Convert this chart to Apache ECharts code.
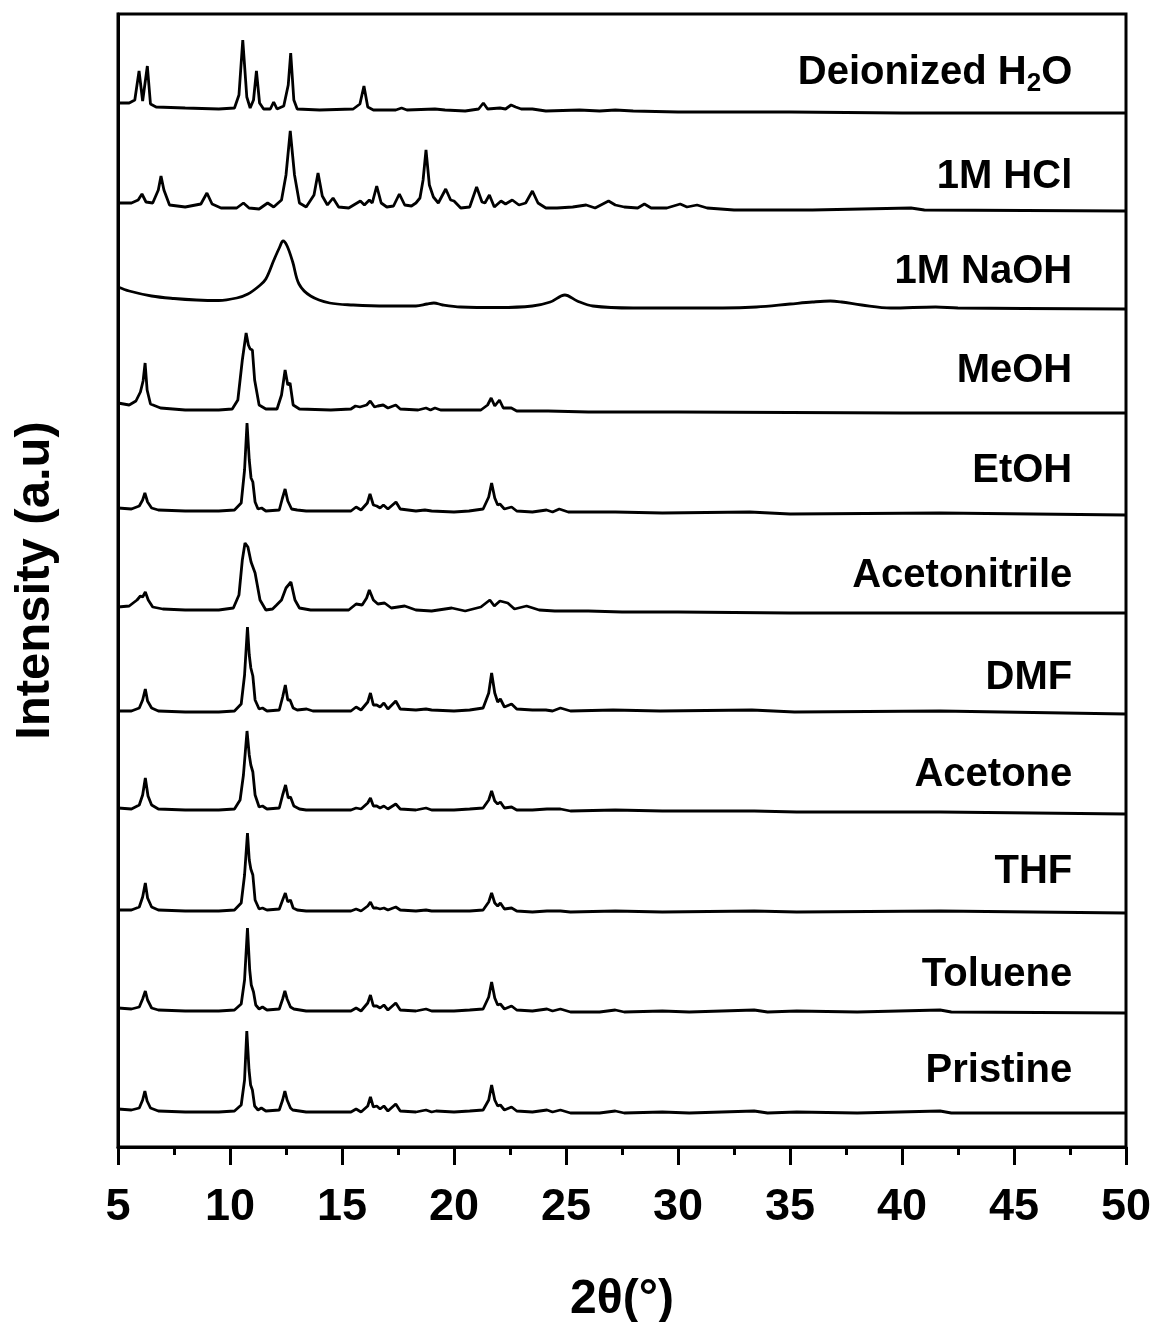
<!DOCTYPE html>
<html>
<head>
<meta charset="utf-8">
<script src="https://cdn.jsdelivr.net/npm/echarts@6/dist/echarts.min.js"></script>
<style>
html,body{margin:0;padding:0;background:#fff;}
#chart{width:1157px;height:1322px;}
</style>
</head>
<body>
<div id="chart"></div>
<script>
// Sample names (top to bottom) and vertical stacking offsets (a.u.)
const sampleNames = ['Deionized H2O','1M HCl','1M NaOH','MeOH','EtOH','Acetonitrile','DMF','Acetone','THF','Toluene','Pristine'];
const offsets = [1033, 935, 836, 733, 631, 533, 432, 332, 233, 133, 32];
const labelLift = [41, 35, 39, 43, 45, 38, 37, 40, 42, 39, 44];

// Each pattern: [2theta, intensity above its own offset]
const deionized = [[5.0,11],[5.5,11],[5.75,14],[5.94,43],[6.1,13],[6.18,14],[6.31,48],[6.45,10],[6.7,7],[8.0,6],[9.5,5],[10.2,6],[10.4,19],[10.57,74],[10.75,17],[10.9,6],[11.05,14],[11.18,43],[11.32,11],[11.5,5],[11.8,5],[11.95,12],[12.1,5],[12.4,8],[12.6,29],[12.71,61],[12.85,14],[13.0,5],[14.0,4],[15.5,5],[15.8,10],[15.98,28],[16.15,7],[16.4,4],[17.4,4],[17.66,6],[17.9,4],[19.15,5],[19.6,4],[20.5,3],[21.1,5],[21.31,11],[21.5,5],[22.05,6],[22.3,5],[22.55,9],[22.75,7],[23.0,5],[23.5,5],[24.1,3],[25.6,4],[26.5,3],[27.2,4],[28,3],[30,2],[35,2],[40,1],[50,1]];
const hcl = [[5.0,9],[5.6,9],[5.9,12],[6.07,18],[6.25,10],[6.55,9],[6.8,22],[6.92,36],[7.05,22],[7.3,7],[8.0,5],[8.7,8],[8.97,19],[9.2,8],[9.6,4],[10.3,4],[10.6,9],[10.85,4],[11.3,3],[11.68,9],[11.95,5],[12.3,12],[12.5,37],[12.69,81],[12.88,37],[13.1,9],[13.4,5],[13.75,17],[13.93,39],[14.12,16],[14.35,7],[14.6,14],[14.85,5],[15.3,4],[15.82,11],[16.0,7],[16.22,12],[16.35,9],[16.55,26],[16.75,9],[17.0,5],[17.3,6],[17.56,18],[17.8,7],[18.1,6],[18.3,9],[18.48,14],[18.62,32],[18.75,62],[18.9,27],[19.08,15],[19.3,9],[19.63,23],[19.85,12],[20.0,11],[20.3,4],[20.7,5],[21.01,25],[21.25,10],[21.38,9],[21.58,17],[21.8,5],[22.1,11],[22.3,8],[22.6,12],[22.9,7],[23.2,9],[23.5,21],[23.75,9],[24.1,4],[24.6,4],[25.3,5],[25.9,7],[26.3,4],[26.9,11],[27.2,7],[27.6,5],[28.2,4],[28.5,8],[28.8,4],[29.5,4],[30.1,8],[30.4,5],[30.85,7],[31.3,4],[32.5,2],[36,2],[40.4,4],[41,2],[50,1]];
const naoh = [[5.0,24],[5.5,20],[6.5,15],[7.5,12.5],[8.5,11],[9.5,10.5],[10.3,13],[10.8,17],[11.3,25],[11.6,32],[11.96,51],[12.2,63],[12.37,70],[12.55,65],[12.8,49],[13.08,27],[13.6,15],[14.45,8],[15.5,6],[17,5],[18.3,5],[18.8,7],[19.1,8],[19.5,6],[20.3,4],[22,3.5],[23.5,5],[24.3,9],[24.95,16],[25.5,10],[26.2,5],[28,3],[30,3],[32,3],[33.5,4],[35,7],[36,9],[36.8,10],[37.3,9],[38.2,6],[39.5,3],[41.5,4],[42.5,3],[50,2]];
const meoh = [[5.0,11],[5.5,9],[5.8,13],[6.0,22],[6.12,33],[6.21,51],[6.3,24],[6.45,10],[6.9,6],[8.0,4],[9.5,4],[10.1,5],[10.35,14],[10.55,54],[10.72,81],[10.82,69],[10.9,65],[11.0,64],[11.1,34],[11.3,9],[11.6,5],[12.1,5],[12.3,19],[12.46,44],[12.58,29],[12.68,31],[12.82,9],[13.1,5],[14.5,4],[15.4,5],[15.6,8],[15.8,7],[16.1,9],[16.26,13],[16.45,7],[16.6,8],[16.84,9],[17.05,6],[17.4,9],[17.6,5],[18.4,4],[18.75,6],[18.95,4],[19.15,6],[19.4,4],[21.2,4],[21.5,9],[21.66,16],[21.82,8],[22.03,14],[22.2,6],[22.56,6],[22.8,3],[24.2,3],[26,2],[30,2],[40,1],[50,1]];
const etoh = [[5.0,8],[5.6,7],[5.95,10],[6.1,16],[6.2,23],[6.32,14],[6.5,8],[6.8,6],[8.0,5],[9.5,5],[10.2,6],[10.5,13],[10.65,46],[10.76,93],[10.86,56],[10.94,38],[11.02,34],[11.12,14],[11.25,7],[11.41,8],[11.6,5],[12.2,6],[12.33,17],[12.46,27],[12.58,15],[12.75,7],[13.0,6],[13.4,5],[15.4,5],[15.63,9],[15.85,6],[16.13,13],[16.25,22],[16.4,11],[16.55,10],[16.7,8],[16.85,11],[17.05,7],[17.41,14],[17.6,7],[18.3,5],[18.7,6],[19.0,5],[20.0,4],[20.67,5],[21.3,7],[21.55,19],[21.68,33],[21.82,18],[21.95,11],[22.05,12],[22.25,7],[22.57,9],[22.8,5],[23.5,4],[24.13,6],[24.4,4],[24.7,7],[25.1,4],[27.2,4],[29.3,3],[33.2,4],[35,2],[41.7,3],[50,1]];
const acetonitrile = [[5.0,7],[5.5,8],[5.85,14],[6.0,18],[6.1,17],[6.22,22],[6.35,14],[6.55,7],[7.0,5],[8.0,4],[9.5,4],[10.15,6],[10.4,19],[10.55,54],[10.67,71],[10.8,67],[10.94,52],[11.12,41],[11.34,14],[11.6,4],[11.9,5],[12.08,9],[12.3,14],[12.5,26],[12.72,32],[12.9,14],[13.1,6],[13.6,4],[15.3,4],[15.63,10],[15.9,9],[16.1,16],[16.22,24],[16.4,14],[16.6,10],[16.9,11],[17.2,6],[17.8,8],[18.3,4],[19.0,3],[19.9,6],[20.5,3],[21.2,7],[21.6,14],[21.8,8],[22.05,13],[22.4,11],[22.7,5],[23.24,8],[23.8,4],[24.5,3],[26,3],[27.5,2],[30,2],[35,1],[50,1]];
const dmf = [[5.0,4],[5.6,4],[5.95,7],[6.1,15],[6.22,26],[6.32,14],[6.5,7],[6.8,4],[8.0,3],[9.5,3],[10.2,4],[10.5,11],[10.65,40],[10.78,88],[10.86,60],[10.93,47],[11.02,39],[11.12,15],[11.3,6],[11.45,7],[11.65,4],[12.2,5],[12.35,18],[12.47,30],[12.58,15],[12.68,15],[12.82,7],[13.0,5],[13.42,6],[13.7,4],[15.4,4],[15.63,8],[15.85,5],[16.15,13],[16.27,22],[16.4,10],[16.55,10],[16.7,8],[16.87,12],[17.05,6],[17.4,14],[17.6,6],[18.3,5],[18.75,6],[19.0,5],[20.0,4],[20.7,5],[21.3,7],[21.55,22],[21.68,42],[21.82,22],[21.95,13],[22.07,16],[22.25,8],[22.57,11],[22.8,6],[23.5,5],[24.1,5],[24.4,4],[24.75,7],[25.2,4],[27.1,5],[29.2,4],[33.3,5],[35.2,3],[41.7,4],[50,1]];
const acetone = [[5.0,7],[5.6,6],[5.95,10],[6.1,20],[6.22,37],[6.34,19],[6.5,10],[6.8,6],[8.0,5],[9.5,5],[10.2,6],[10.45,15],[10.6,40],[10.76,84],[10.86,60],[10.93,50],[11.02,43],[11.12,20],[11.3,8],[11.45,9],[11.65,6],[12.2,7],[12.35,20],[12.48,30],[12.6,17],[12.7,18],[12.85,9],[13.1,6],[13.4,5],[15.4,5],[15.63,7],[15.85,6],[16.15,12],[16.27,17],[16.4,9],[16.55,9],[16.7,7],[16.87,9],[17.05,6],[17.4,11],[17.6,6],[18.3,5],[18.75,7],[19.0,5],[20.0,5],[20.7,6],[21.3,7],[21.55,15],[21.68,24],[21.82,14],[21.95,11],[22.07,13],[22.25,7],[22.57,8],[22.8,5],[23.5,5],[24.15,6],[24.75,6],[25.2,4],[27.2,5],[29.3,4],[33.4,4],[35.3,3],[41.7,3],[50,1]];
const thf = [[5.0,4],[5.6,4],[5.95,7],[6.1,17],[6.22,31],[6.32,16],[6.5,7],[6.8,4],[8.0,3],[9.5,3],[10.2,4],[10.5,11],[10.65,39],[10.78,81],[10.86,54],[10.93,45],[11.02,39],[11.12,14],[11.3,5],[11.45,6],[11.65,4],[12.2,5],[12.35,14],[12.47,21],[12.58,12],[12.7,14],[12.82,6],[13.0,4],[13.4,3],[15.4,3],[15.63,5],[15.85,3],[16.15,8],[16.27,12],[16.4,6],[16.55,6],[16.7,5],[16.87,6],[17.05,4],[17.4,7],[17.6,4],[18.3,3],[18.75,4],[19.0,3],[20.0,3],[20.7,3],[21.3,4],[21.55,12],[21.68,21],[21.82,11],[21.95,8],[22.07,11],[22.25,5],[22.57,6],[22.8,3],[23.5,2],[24.15,3],[24.75,3],[25.2,2],[27.2,3],[29.3,2],[33.4,3],[35.3,2],[41.7,3],[50,1]];
const toluene = [[5.0,6],[5.6,5],[5.95,7],[6.1,15],[6.22,23],[6.32,14],[6.5,6],[6.8,4],[8.0,3],[9.5,3],[10.2,4],[10.5,10],[10.65,34],[10.78,86],[10.88,44],[10.95,29],[11.05,22],[11.15,9],[11.3,5],[11.45,7],[11.65,4],[12.2,5],[12.35,15],[12.45,23],[12.55,15],[12.7,7],[12.85,5],[13.4,3],[15.4,3],[15.63,6],[15.85,3],[16.15,11],[16.27,19],[16.4,8],[16.55,8],[16.7,6],[16.87,9],[17.05,4],[17.4,11],[17.6,4],[18.3,3],[18.75,5],[19.0,3],[20.0,3],[20.7,4],[21.3,5],[21.55,17],[21.68,32],[21.82,16],[21.95,9],[22.07,10],[22.25,5],[22.57,8],[22.8,4],[23.5,3],[24.15,5],[24.4,3],[24.75,5],[25.2,2],[26.5,2],[27.2,4],[27.6,2],[29.3,3],[30.5,2],[33.4,4],[34.0,2],[35.3,3],[38,2],[41.7,4],[42.2,2],[50,1]];
const pristine = [[5.0,6],[5.6,5],[5.95,7],[6.1,15],[6.2,24],[6.3,14],[6.45,7],[6.8,4],[8.0,3],[9.5,3],[10.2,4],[10.5,10],[10.65,35],[10.75,84],[10.85,45],[10.92,30],[11.0,25],[11.1,9],[11.25,5],[11.4,7],[11.6,4],[12.2,5],[12.35,15],[12.45,24],[12.55,15],[12.7,7],[12.8,5],[13.4,3],[15.4,3],[15.63,6],[15.85,3],[16.15,9],[16.27,18],[16.4,8],[16.55,9],[16.7,6],[16.87,9],[17.05,4],[17.4,11],[17.6,4],[18.3,3],[18.75,5],[19.0,3],[19.2,4],[20.0,3],[20.7,4],[21.3,5],[21.55,15],[21.68,30],[21.82,15],[21.95,9],[22.07,10],[22.25,5],[22.57,8],[22.8,4],[23.5,3],[24.15,5],[24.4,3],[24.75,5],[25.2,2],[26.5,2],[27.2,4],[27.6,2],[29.3,3],[30.5,2],[33.4,4],[34.0,2],[35.3,3],[38,2],[41.7,4],[42.2,2],[45,2],[50,2]];

const patterns = [deionized, hcl, naoh, meoh, etoh, acetonitrile, dmf, acetone, thf, toluene, pristine];
const xTicks = [5,10,15,20,25,30,35,40,45,50];
const labelX = 47.6;

const FONT = '"Liberation Sans", Arial, Helvetica, sans-serif';
const chart = echarts.init(document.getElementById('chart'), null, {renderer:'canvas'});

const series = patterns.map((p, i) => ({
  type: 'line',
  name: sampleNames[i],
  data: p.map(d => [d[0], d[1] + offsets[i]]),
  symbol: 'none',
  smooth: i === 2 ? 0.35 : false,
  lineStyle: {color: '#000', width: 2.8},
  silent: true,
  animation: false,
  z: 3
}));

series.push({
  type: 'scatter',
  symbolSize: 0,
  silent: true,
  animation: false,
  itemStyle: {color: '#000', opacity: 1},
  data: sampleNames.map((n, i) => ({value: [labelX, offsets[i] + labelLift[i]], name: n})),
  label: {
    show: true,
    position: 'left',
    distance: 0,
    color: '#000',
    opacity: 1,
    fontSize: 40,
    fontWeight: 'bold',
    fontFamily: FONT,
    formatter: p => p.name === 'Deionized H2O' ? '{a|Deionized H}{s|2}{a|O}' : '{a|' + p.name + '}',
    rich: {
      a: {fontSize: 40, fontWeight: 'bold', fontFamily: FONT, color: '#000'},
      s: {fontSize: 26, fontWeight: 'bold', fontFamily: FONT, color: '#000', padding: [22, 0, 0, 0]}
    }
  },
  z: 5
});

chart.setOption({
  backgroundColor: '#fff',
  animation: false,
  grid: {left: 118, right: 31, top: 14, bottom: 175, show: true, borderColor: '#000', borderWidth: 3,
    containLabel: false, outerBoundsMode: 'none'},
  xAxis: {
    type: 'value', min: 5, max: 50, interval: 5,
    name: '2θ(°)', nameLocation: 'middle', nameGap: 129,
    nameTextStyle: {fontSize: 48, fontWeight: 'bold', fontFamily: FONT, color: '#000'},
    axisLine: {show: true, lineStyle: {color: '#000', width: 3}},
    axisTick: {show: true, inside: false, length: 18, lineStyle: {color: '#000', width: 3}},
    minorTick: {show: true, splitNumber: 2, length: 8, lineStyle: {color: '#000', width: 3}},
    axisLabel: {show: true, margin: 38, fontSize: 45, fontWeight: 'bold', fontFamily: FONT, color: '#000',
      formatter: v => xTicks.indexOf(v) >= 0 ? String(v) : ''},
    splitLine: {show: false}
  },
  yAxis: {
    type: 'value', min: 0, max: 1133,
    name: 'Intensity (a.u)', nameLocation: 'middle', nameGap: 58,
    nameTextStyle: {fontSize: 49, fontWeight: 'bold', fontFamily: FONT, color: '#000'},
    axisLine: {show: true, lineStyle: {color: '#000', width: 3}},
    axisTick: {show: false},
    axisLabel: {show: false},
    splitLine: {show: false}
  },
  series: series
});
</script>
</body>
</html>
